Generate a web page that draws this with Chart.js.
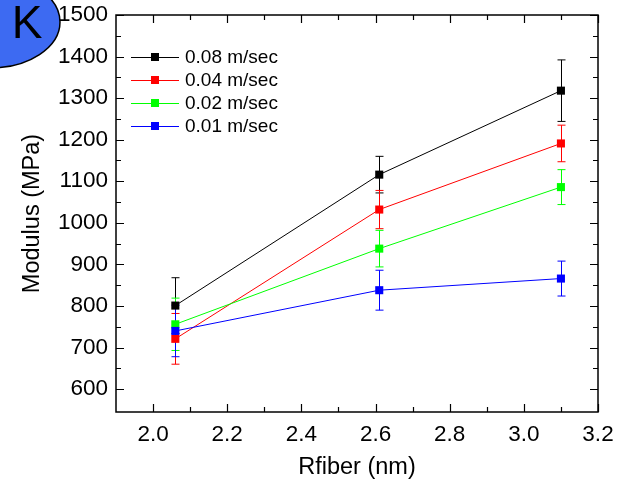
<!DOCTYPE html>
<html>
<head>
<meta charset="utf-8">
<script src="https://cdn.jsdelivr.net/npm/chart.js@4.4.1/dist/chart.umd.min.js"></script>
<style>
  html, body { margin: 0; padding: 0; background: #fff; }
  #chart { display: block; }
</style>
</head>
<body>
<canvas id="chart" width="634" height="486"></canvas>
<script>
// fiber radius (nm)
const rfiber = [2.06, 2.61, 3.10];

// modulus (MPa) and error for each pulling speed
const mod008 = [801, 1116, 1318];
const err008 = [67, 44, 74];
const mod004 = [721, 1032, 1191];
const err004 = [61, 46, 44];
const mod002 = [756, 938, 1086];
const err002 = [63, 44, 42];
const mod001 = [740, 838, 866];
const err001 = [62, 48, 42];

const speeds = ['0.08 m/sec', '0.04 m/sec', '0.02 m/sec', '0.01 m/sec'];
const colors = ['#000000', '#ff0000', '#00ff00', '#0000ff'];

const xTicks = [2.0, 2.2, 2.4, 2.6, 2.8, 3.0, 3.2];
const xMinor = [2.1, 2.3, 2.5, 2.7, 2.9, 3.1];
const yTicks = [600, 700, 800, 900, 1000, 1100, 1200, 1300, 1400, 1500];
const yMinor = [650, 750, 850, 950, 1050, 1150, 1250, 1350, 1450];

const FONT = 'Liberation Sans, Arial, sans-serif';

function points(ys) {
  return rfiber.map((x, i) => ({ x: x, y: ys[i] }));
}

function makeSet(i, ys, errs, order) {
  return {
    label: speeds[i],
    data: points(ys),
    errors: errs,
    showLine: true,
    borderColor: colors[i],
    backgroundColor: colors[i],
    borderWidth: 1,
    pointStyle: 'rect',
    pointRadius: 5.7,
    pointBorderWidth: 0,
    order: order
  };
}

// vertical error bars with caps
const errorBars = {
  id: 'errorBars',
  beforeDatasetsDraw(chart) {
    const ctx = chart.ctx;
    const xs = chart.scales.x, ys = chart.scales.y;
    ctx.save();
    chart.data.datasets.forEach(ds => {
      ctx.strokeStyle = ds.borderColor;
      ctx.lineWidth = 1;
      ds.data.forEach((p, i) => {
        const px = Math.round(xs.getPixelForValue(p.x)) + 0.5;
        const top = ys.getPixelForValue(p.y + ds.errors[i]);
        const bot = ys.getPixelForValue(p.y - ds.errors[i]);
        ctx.beginPath();
        ctx.moveTo(px, top); ctx.lineTo(px, bot);
        ctx.moveTo(px - 4, top); ctx.lineTo(px + 4, top);
        ctx.moveTo(px - 4, bot); ctx.lineTo(px + 4, bot);
        ctx.stroke();
      });
    });
    ctx.restore();
  }
};

// box frame, inward ticks, legend and the panel badge
const decor = {
  id: 'decor',
  afterDraw(chart) {
    const ctx = chart.ctx;
    const a = chart.chartArea;
    const xs = chart.scales.x, ys = chart.scales.y;
    ctx.save();
    ctx.strokeStyle = '#000';
    ctx.lineWidth = 1.5;
    ctx.strokeRect(a.left, a.top, a.right - a.left, a.bottom - a.top);

    ctx.lineWidth = 1.2;
    ctx.beginPath();
    const yt = (v, len) => {
      const py = Math.round(ys.getPixelForValue(v)) + 0.5;
      ctx.moveTo(a.left, py); ctx.lineTo(a.left + len, py);
      ctx.moveTo(a.right, py); ctx.lineTo(a.right - len, py);
    };
    const xt = (v, len) => {
      const px = Math.round(xs.getPixelForValue(v)) + 0.5;
      ctx.moveTo(px, a.bottom); ctx.lineTo(px, a.bottom - len);
      ctx.moveTo(px, a.top); ctx.lineTo(px, a.top + len);
    };
    yTicks.forEach(v => yt(v, 8));
    yMinor.forEach(v => yt(v, 5));
    xTicks.forEach(v => xt(v, 8));
    xMinor.forEach(v => xt(v, 5));
    ctx.stroke();

    // legend
    ctx.font = '19px ' + FONT;
    ctx.textBaseline = 'middle';
    ctx.textAlign = 'left';
    chart.data.datasets.forEach((ds, i) => {
      const y = 57 + i * 23;
      ctx.strokeStyle = ds.borderColor;
      ctx.lineWidth = 1;
      ctx.beginPath();
      ctx.moveTo(131, y + 0.5); ctx.lineTo(179, y + 0.5);
      ctx.stroke();
      ctx.fillStyle = ds.backgroundColor;
      ctx.fillRect(151, y - 4, 8, 8);
      ctx.fillStyle = '#000';
      ctx.fillText(ds.label, 185, y + 1);
    });

    // "K" badge
    ctx.beginPath();
    ctx.ellipse(-10, 22, 70, 46, 0, 0, Math.PI * 2);
    ctx.fillStyle = '#3d6af2';
    ctx.fill();
    ctx.lineWidth = 1.5;
    ctx.strokeStyle = '#000';
    ctx.stroke();
    ctx.fillStyle = '#000';
    ctx.font = '46px ' + FONT;
    ctx.textAlign = 'center';
    ctx.textBaseline = 'alphabetic';
    ctx.fillText('K', 27, 38);
    ctx.restore();
  }
};

new Chart(document.getElementById('chart'), {
  type: 'scatter',
  data: {
    datasets: [
      makeSet(0, mod008, err008, 0),
      makeSet(1, mod004, err004, 3),
      makeSet(2, mod002, err002, 2),
      makeSet(3, mod001, err001, 1)
    ]
  },
  options: {
    responsive: false,
    animation: false,
    layout: { padding: { top: 15, right: 36, bottom: 4, left: 18 } },
    plugins: {
      legend: { display: false },
      tooltip: { enabled: false }
    },
    scales: {
      x: {
        type: 'linear',
        min: 1.9,
        max: 3.2,
        afterBuildTicks: s => { s.ticks = xTicks.map(v => ({ value: v })); },
        afterFit: s => { s.height = 70; },
        grid: { display: false, drawTicks: false },
        border: { display: false },
        ticks: {
          color: '#000',
          font: { family: FONT, size: 22.5 },
          padding: 9,
          maxRotation: 0,
          callback: v => v.toFixed(1)
        },
        title: {
          display: true,
          text: 'Rfiber (nm)',
          color: '#000',
          font: { family: FONT, size: 23.5 },
          padding: { top: 4, bottom: 0 }
        }
      },
      y: {
        min: 545,
        max: 1500,
        afterBuildTicks: s => { s.ticks = yTicks.map(v => ({ value: v })); },
        afterFit: s => { s.width = 98; s.paddingTop = 0; s.paddingBottom = 0; },
        grid: { display: false, drawTicks: false },
        border: { display: false },
        ticks: {
          color: '#000',
          font: { family: FONT, size: 22.5 },
          padding: 8,
          callback: v => String(v)
        },
        title: {
          display: true,
          text: 'Modulus (MPa)',
          color: '#000',
          font: { family: FONT, size: 23.5 },
          padding: { top: 0, bottom: 0 }
        }
      }
    }
  },
  plugins: [errorBars, decor]
});
</script>
</body>
</html>
